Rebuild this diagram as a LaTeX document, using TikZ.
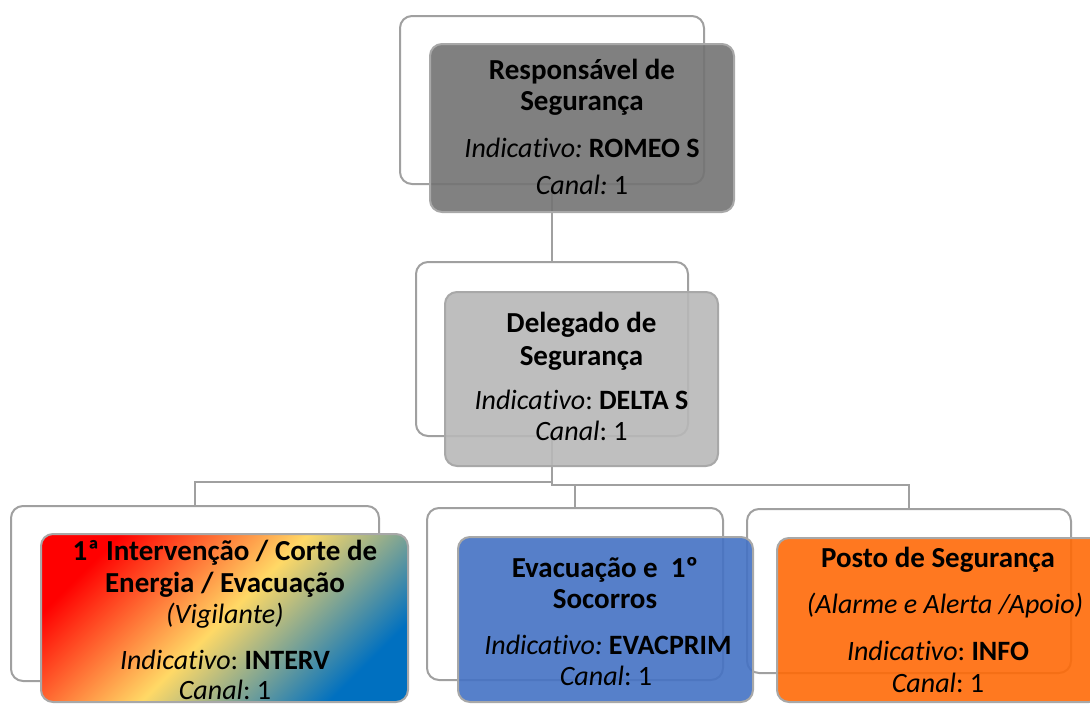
\documentclass[tikz,border=0pt]{standalone}
\usepackage{fontspec}
\setmainfont{Carlito}[Ligatures=NoCommon]
\frenchspacing
\definecolor{linegray}{HTML}{A0A0A0}
\definecolor{bordergray}{HTML}{A8A8A8}
\definecolor{darkfill}{HTML}{737373}
\definecolor{lightfill}{HTML}{B8B8B8}
\definecolor{bluefill}{HTML}{4472C4}
\definecolor{orangefill}{HTML}{FF6A08}
\definecolor{gradred}{HTML}{FF0000}
\definecolor{gradyellow}{HTML}{FFD966}
\definecolor{gradblue}{HTML}{0070C0}
\begin{document}
\begin{tikzpicture}[x=1pt,y=-1pt,
  backbox/.style={draw=linegray, line width=2pt, rounded corners=12pt, fill=white, inner sep=0pt},
  frontbox/.style={draw=bordergray, line width=2pt, rounded corners=12pt, inner sep=0pt, fill opacity=0.9},
  gradbox/.style={draw=bordergray, line width=2pt, rounded corners=12pt, inner sep=0pt,
    left color=gradred, right color=gradblue, middle color=gradyellow, shading angle=45},
  conn/.style={draw=linegray, line width=2.2pt},
  ttl/.style={font=\fontsize{29}{34}\selectfont\bfseries, anchor=base, inner sep=0pt},
  txt/.style={font=\fontsize{28}{33}\selectfont, anchor=base, inner sep=0pt}]
\useasboundingbox (0,0) rectangle (1090,704);
\clip (0,0) rectangle (1090,704);
% back boxes
\node[backbox, minimum width=304pt, minimum height=168pt] (b1) at (552,100) {};
\node[backbox, minimum width=272pt, minimum height=174pt] (b2) at (552,349) {};
\node[backbox, minimum width=368pt, minimum height=175pt] (b3) at (195,593.5) {};
\node[backbox, minimum width=296pt, minimum height=172pt] (b4) at (575,594) {};
\node[backbox, minimum width=324pt, minimum height=164pt] (b5) at (909,591) {};
% connectors
\draw[conn] (b1.south) -- (b2.north);
\draw[conn] (b2.south) -- ++(0,45) -| (b3.north);
\draw[conn] (b2.south) -- ++(0,48) -| (b4.north);
\draw[conn] (b2.south) -- ++(0,48) -| (b5.north);
% front boxes
\node[frontbox, fill=darkfill, minimum width=304pt, minimum height=168pt] (f1) at (582,128) {};
\node[frontbox, fill=lightfill, minimum width=273pt, minimum height=174pt] (f2) at (581.5,379) {};
\node[gradbox, minimum width=367pt, minimum height=168pt] (f3) at (224.5,618) {};
\node[frontbox, fill=bluefill, minimum width=295pt, minimum height=165pt] (f4) at (605.5,619.5) {};
\node[frontbox, fill=orangefill, minimum width=324pt, minimum height=164pt] (f5) at (939,620) {};
% texts
\node[ttl] (t1a) at (582,79) {Responsável de};
\node[ttl] (t1b) at (582,110) {Segurança};
\node[txt] (t1c) at (582,157) {\textit{Indicativo:} \textbf{ROMEO S}};
\node[txt] (t1d) at (582,194) {\textit{Canal:} 1};
\node[ttl] (t2a) at (581.5,332) {Delegado de};
\node[ttl] (t2b) at (581.5,365) {Segurança};
\node[txt] (t2c) at (581.5,409) {\textit{Indicativo}: \textbf{DELTA S}};
\node[txt] (t2d) at (581.5,440) {\textit{Canal}: 1};
\node[ttl] (t3a) at (225,560) {1ª Intervenção / Corte de};
\node[ttl] (t3b) at (225,592) {Energia / Evacuação};
\node[txt] (t3c) at (225,623) {\textit{(Vigilante)}};
\node[txt] (t3d) at (225,669) {\textit{Indicativo}: \textbf{INTERV}};
\node[txt] (t3e) at (225,699) {\textit{Canal}: 1};
\node[ttl] (t4a) at (605,577) {Evacuação e\ \ 1º};
\node[ttl] (t4b) at (605,608) {Socorros};
\node[txt] (t4c) at (608,654) {\textit{Indicativo:} \textbf{EVACPRIM}};
\node[txt] (t4d) at (606,685) {\textit{Canal}: 1};
\node[ttl] (t5a) at (938,567) {Posto de Segurança};
\node[txt] (t5b) at (945,613) {\textit{(Alarme e Alerta /Apoio)}};
\node[txt] (t5c) at (938,660) {\textit{Indicativo}: \textbf{INFO}};
\node[txt] (t5d) at (938,692) {\textit{Canal}: 1};
\end{tikzpicture}
\end{document}
